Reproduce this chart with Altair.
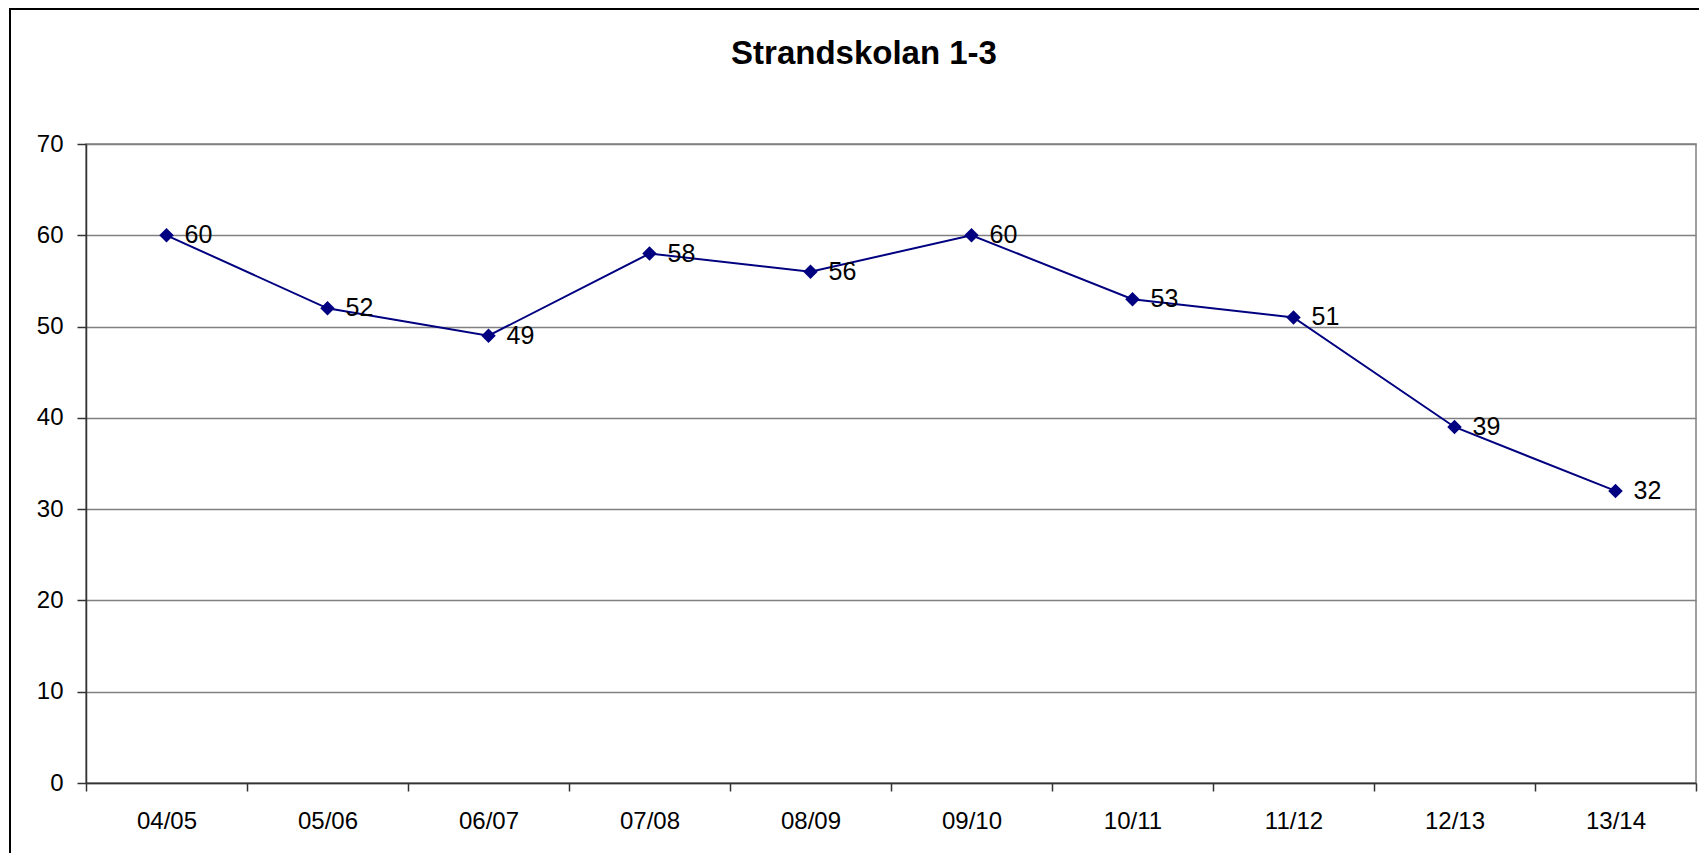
import altair as alt
import pandas as pd

years = ["04/05", "05/06", "06/07", "07/08", "08/09", "09/10", "10/11", "11/12", "12/13", "13/14"]
values = [60, 52, 49, 58, 56, 60, 53, 51, 39, 32]
y_ticks = [0, 10, 20, 30, 40, 50, 60, 70]
chart_title = "Strandskolan 1-3"

df = pd.DataFrame({"year": years, "value": values})

FONT = "Liberation Sans"
NAVY = "#000080"

xenc = alt.X(
    "year:N",
    sort=years,
    bandPosition=0.5,
    scale=alt.Scale(type="band", paddingInner=0, paddingOuter=0),
    axis=alt.Axis(title=None, labelAngle=0, tickBand="extent", grid=False,
                  tickSize=8, labelPadding=18,
                  labelFont=FONT, labelFontSize=24, labelColor="black",
                  domainColor="#333333", domainWidth=1.5,
                  tickColor="#333333", tickWidth=1.5),
)
yenc = alt.Y(
    "value:Q",
    scale=alt.Scale(domain=[0, 70], nice=False, zero=True),
    axis=alt.Axis(title=None, values=y_ticks, grid=True, tickSize=9, labelPadding=14,
                  labelFont=FONT, labelFontSize=24, labelColor="black",
                  domainColor="#333333", domainWidth=1.5,
                  tickColor="#333333", tickWidth=1.5,
                  gridColor="#808080", gridWidth=1.5),
)

base = alt.Chart(df)
line = base.mark_line(color=NAVY, strokeWidth=2).encode(x=xenc, y=yenc)
points = base.mark_point(shape="diamond", filled=True, size=210, color=NAVY, opacity=1).encode(x=xenc, y=yenc)
labels = base.mark_text(align="left", baseline="middle", dx=18, fontSize=25, font=FONT, color="black").encode(
    x=xenc, y=yenc, text="value:Q"
)

frame_df = pd.DataFrame({"k": [0]})
left_border = alt.Chart(frame_df).mark_rule(color="black", strokeWidth=2).encode(
    x=alt.value(-76), y=alt.value(-136), y2=alt.value(740)
)
top_border = alt.Chart(frame_df).mark_rule(color="black", strokeWidth=2).encode(
    x=alt.value(-76), x2=alt.value(1720), y=alt.value(-135)
)

chart = (
    alt.layer(left_border, top_border, line, points, labels)
    .properties(
        width=1610,
        height=639,
        padding={"left": 78, "top": 136, "right": 3, "bottom": 70},
        autosize=alt.AutoSizeParams(type="none"),
        title=alt.TitleParams(
            chart_title, font=FONT, fontSize=33, fontWeight="bold", color="black",
            anchor="middle", dx=-27, offset=-90, baseline="alphabetic",
        ),
    )
    .configure_view(stroke="#808080", strokeWidth=1.5)
)

chart.save("out.html", embed_options={"renderer": "svg", "actions": False})
